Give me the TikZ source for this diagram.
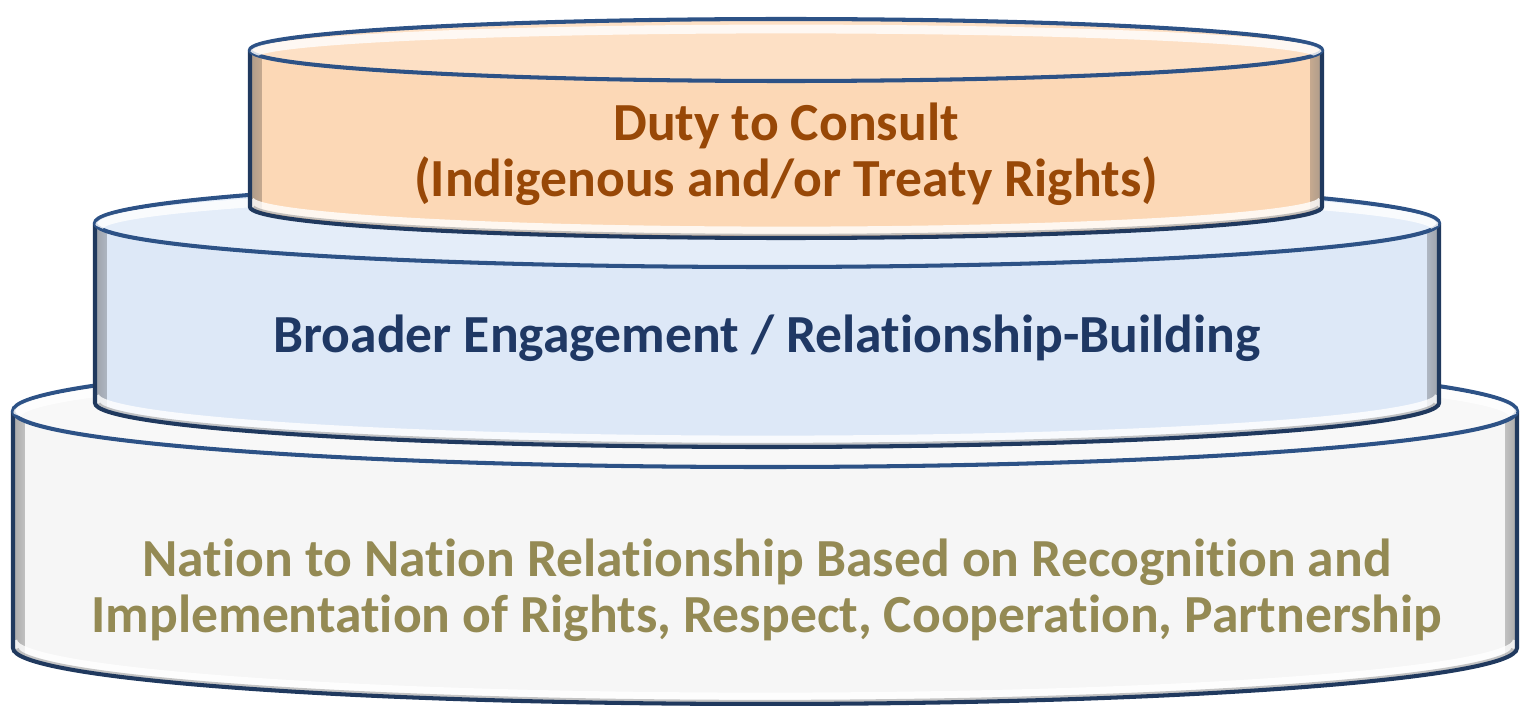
\documentclass[tikz,border=0pt]{standalone}
\usepackage{fontspec}
\setmainfont{Carlito}[Ligatures=NoCommon]

\definecolor{rimblue}{HTML}{2D5286}
\definecolor{peach}{HTML}{FCD8B6}
\definecolor{sky}{HTML}{DDE8F7}
\definecolor{mist}{HTML}{F6F6F6}
\definecolor{rust}{HTML}{984807}
\definecolor{navy}{HTML}{1F3864}
\definecolor{olive}{HTML}{948A54}

% one layer of the stack: centre x, half width, top y, foot y, ellipse depth, colour
\newcommand{\tier}[6]{%
  \fill[#6] (#1-#2,#3) -- (#1-#2,#4)
    arc[start angle=180,end angle=0,x radius=#2,y radius=#5] -- (#1+#2,#3) -- cycle;
  \begin{scope}
    \clip (#1-#2,#3) -- (#1-#2,#4)
      arc[start angle=180,end angle=0,x radius=#2,y radius=#5] -- (#1+#2,#3) -- cycle;
    \fill[left color=black!35, right color=#6, opacity=.3] (#1-#2,#3) rectangle (#1-#2+12,#4+#5);
    \fill[right color=black!35, left color=#6, opacity=.3] (#1+#2-12,#3) rectangle (#1+#2,#4+#5);
    \draw[white, line width=5pt, opacity=.8] (#1-#2,#4-7)
      arc[start angle=180,end angle=0,x radius=#2,y radius=#5];
    \draw[black!50, line width=7pt, opacity=.45] (#1-#2,#4+2)
      arc[start angle=180,end angle=0,x radius=#2,y radius=#5];
  \end{scope}
  \draw[rim, draw=rimblue!70!black] (#1-#2,#3) -- (#1-#2,#4)
    arc[start angle=180,end angle=0,x radius=#2,y radius=#5] -- (#1+#2,#3);
  \filldraw[rim, fill=#6!80!white] (#1,#3) ellipse[x radius=#2, y radius=#5];
  \begin{scope}
    \clip (#1,#3) ellipse[x radius=#2, y radius=#5];
    \draw[white, line width=5pt, opacity=.8] (#1-#2+4,#3+4)
      arc[start angle=180,end angle=360,x radius=#2-4,y radius=#5-6];
  \end{scope}
}

\begin{document}
\begin{tikzpicture}[x=0.02cm, y=-0.02cm,
  rim/.style={draw=rimblue, line width=2.3pt},
  tiertext/.style={font=\fontsize{30.5}{32}\selectfont\bfseries, align=center}]
\useasboundingbox (0,0) rectangle (1526,706);

% base, middle and top layers
\tier{765}{752}{411}{648}{56}{mist}
\tier{767}{672}{223}{403}{44}{sky}
\tier{786}{536}{50}{207}{31}{peach}

\node[tiertext, text=rust] (duty) at (786,154) {Duty to Consult\\(Indigenous and/or Treaty Rights)};
\node[tiertext, text=navy] (broad) at (767,338) {Broader Engagement / Relationship-Building};
\node[tiertext, text=olive] (nation) at (767,590) {Nation to Nation Relationship Based on Recognition and\\Implementation of Rights, Respect, Cooperation, Partnership};
\end{tikzpicture}
\end{document}
